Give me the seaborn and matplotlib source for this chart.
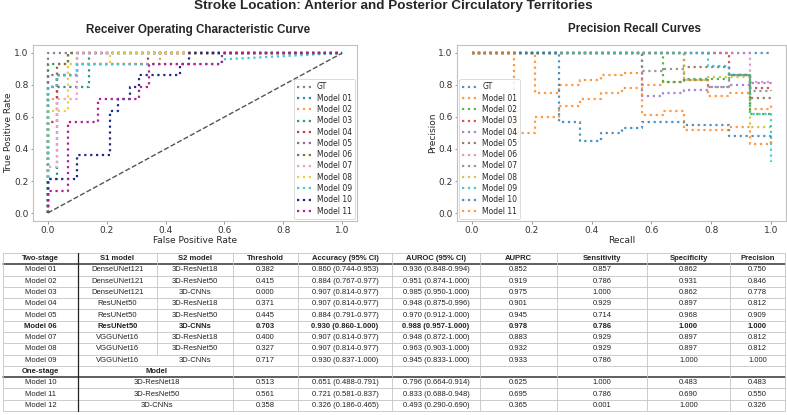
import matplotlib
matplotlib.use("Agg")
import matplotlib.pyplot as plt
import seaborn as sns

# ---------------- data ----------------
roc_names = ["GT", "Model 01", "Model 02", "Model 03", "Model 04", "Model 05",
             "Model 06", "Model 07", "Model 08", "Model 09", "Model 10", "Model 11"]
roc_fpr = [
    [0, 0, 1],
    [0, 0, 0.03, 0.03, 0.14, 0.14, 1],
    [0, 0, 0.03, 0.03, 0.07, 0.07, 0.38, 0.38, 1],
    [0, 0, 0.07, 0.07, 1],
    [0, 0, 0.03, 0.03, 0.10, 0.10, 0.34, 0.34, 1],
    [0, 0, 0.10, 0.10, 1],
    [0, 0, 0.03, 0.03, 0.07, 0.07, 1],
    [0, 0, 0.03, 0.03, 0.10, 0.10, 1],
    [0, 0, 0.07, 0.07, 0.21, 0.21, 1],
    [0, 0, 0.03, 0.03, 0.10, 0.10, 0.59, 0.59, 1],
    [0, 0, 0.10, 0.10, 0.21, 0.21, 0.24, 0.24, 0.28, 0.28, 0.31, 0.31, 0.45, 0.45, 0.48, 0.48, 1],
    [0, 0, 0.07, 0.07, 0.17, 0.17, 0.31, 0.31, 0.345, 0.345, 0.59, 0.59, 1],
]
roc_tpr = [
    [0, 1, 1],
    [0, 0.21, 0.21, 0.79, 0.79, 1, 1],
    [0, 0.71, 0.71, 0.86, 0.86, 0.93, 0.93, 1, 1],
    [0, 0.93, 0.93, 1, 1],
    [0, 0.57, 0.57, 0.86, 0.86, 0.93, 0.93, 1, 1],
    [0, 0.86, 0.86, 1, 1],
    [0, 0.79, 0.79, 0.93, 0.93, 1, 1],
    [0, 0.29, 0.29, 0.71, 0.71, 1, 1],
    [0, 0.64, 0.64, 0.93, 0.93, 1, 1],
    [0, 0.79, 0.79, 0.86, 0.86, 0.93, 0.93, 0.96, 1],
    [0, 0.21, 0.21, 0.36, 0.36, 0.64, 0.64, 0.71, 0.71, 0.79, 0.79, 0.86, 0.86, 0.93, 0.93, 1, 1],
    [0, 0.14, 0.14, 0.57, 0.57, 0.71, 0.71, 0.79, 0.79, 0.93, 0.93, 1, 1],
]
roc_colors = ["#8a7f9e", "#2f8fa0", "#f2a54a", "#2ca05a", "#c0395a", "#7f6f9f",
              "#8c6d3f", "#f0a0c8", "#e8d040", "#40c8d8", "#1f2a8a", "#b02090"]

pr_names = roc_names
pr_recall = [
    [0, 1],
    [0, 0.21, 0.21, 0.29, 0.29, 0.36, 0.36, 0.43, 0.43, 0.5, 0.5, 0.57, 0.57, 0.64, 0.64, 0.71, 0.71, 0.79, 0.79, 0.86, 0.86, 0.93, 0.93, 1, 1],
    [0, 0.64, 0.64, 0.71, 0.71, 0.86, 0.86, 0.93, 0.93, 1],
    [0, 0.86, 0.86, 0.93, 0.93, 1],
    [0, 0.57, 0.57, 0.64, 0.64, 0.71, 0.71, 0.79, 0.79, 0.86, 0.86, 0.93, 0.93, 1, 1],
    [0, 0.71, 0.71, 0.86, 0.86, 0.93, 0.93, 1],
    [0, 0.93, 0.93, 1],
    [0, 0.57, 0.57, 0.64, 0.64, 0.71, 0.71, 0.79, 0.79, 0.86, 0.86, 0.93, 0.93, 1, 1],
    [0, 0.71, 0.71, 0.79, 0.79, 0.93, 0.93, 1],
    [0, 0.79, 0.79, 0.86, 0.86, 0.93, 0.93, 1, 1],
    [0, 0.29, 0.29, 0.36, 0.36, 0.43, 0.43, 0.5, 0.5, 0.57, 0.57, 0.71, 0.71, 0.86, 0.86, 1, 1],
    [0, 0.14, 0.14, 0.21, 0.21, 0.29, 0.29, 0.36, 0.36, 0.43, 0.43, 0.5, 0.5, 0.57, 0.57, 0.64, 0.64, 0.71, 0.71, 0.86, 0.86, 0.93, 0.93, 1, 1],
]
pr_precision = [
    [1, 1],
    [1, 1, 0.75, 0.75, 0.8, 0.8, 0.83, 0.83, 0.86, 0.86, 0.875, 0.875, 0.8, 0.8, 0.82, 0.82, 0.83, 0.83, 0.73, 0.73, 0.75, 0.75, 0.65, 0.65, 0.69],
    [1, 1, 0.82, 0.82, 0.84, 0.84, 0.86, 0.86, 0.62, 0.62],
    [1, 1, 0.86, 0.86, 0.78, 0.78],
    [1, 1, 0.73, 0.73, 0.75, 0.75, 0.77, 0.77, 0.79, 0.79, 0.8, 0.8, 0.81, 0.81, 0.82],
    [1, 1, 0.91, 0.91, 0.86, 0.86, 0.72, 0.72],
    [1, 1, 0.82, 0.82],
    [1, 1, 0.89, 0.89, 0.9, 0.9, 0.83, 0.83, 0.79, 0.79, 0.86, 0.86, 0.76, 0.76, 0.77],
    [1, 1, 0.83, 0.83, 0.85, 0.85, 0.54, 0.54],
    [1, 1, 0.92, 0.92, 0.86, 0.86, 0.62, 0.62, 0.32],
    [1, 1, 0.57, 0.57, 0.45, 0.45, 0.5, 0.5, 0.53, 0.53, 0.57, 0.57, 0.55, 0.55, 0.48, 0.48, 0.5],
    [1, 1, 0.5, 0.5, 0.6, 0.6, 0.67, 0.67, 0.71, 0.71, 0.75, 0.75, 0.78, 0.78, 0.61, 0.61, 0.64, 0.64, 0.52, 0.52, 0.54, 0.54, 0.43, 0.43, 0.45],
]
pr_colors = ["#1f77b4", "#ff7f0e", "#2ca02c", "#d62728", "#9467bd", "#8c564b",
             "#e377c2", "#7f7f7f", "#bcbd22", "#17becf", "#1f77b4", "#ff7f0e"]

# table
header = ["Two-stage", "S1 model", "S2 model", "Threshold", "Accuracy (95% CI)",
          "AUROC (95% CI)", "AUPRC", "Sensitivity", "Specificity", "Precision"]
two_models = ["Model 01", "Model 02", "Model 03", "Model 04", "Model 05",
              "Model 06", "Model 07", "Model 08", "Model 09"]
two_s1 = ["DenseUNet121", "DenseUNet121", "DenseUNet121", "ResUNet50", "ResUNet50",
          "ResUNet50", "VGGUNet16", "VGGUNet16", "VGGUNet16"]
two_s2 = ["3D-ResNet18", "3D-ResNet50", "3D-CNNs", "3D-ResNet18", "3D-ResNet50",
          "3D-CNNs", "3D-ResNet18", "3D-ResNet50", "3D-CNNs"]
two_thr = ["0.382", "0.415", "0.000", "0.371", "0.445", "0.703", "0.400", "0.327", "0.717"]
two_acc = ["0.860 (0.744-0.953)", "0.884 (0.767-0.977)", "0.907 (0.814-0.977)",
           "0.907 (0.814-0.977)", "0.884 (0.791-0.977)", "0.930 (0.860-1.000)",
           "0.907 (0.814-0.977)", "0.907 (0.814-0.977)", "0.930 (0.837-1.000)"]
two_auroc = ["0.936 (0.848-0.994)", "0.951 (0.874-1.000)", "0.985 (0.950-1.000)",
             "0.948 (0.875-0.996)", "0.970 (0.912-1.000)", "0.988 (0.957-1.000)",
             "0.948 (0.872-1.000)", "0.963 (0.903-1.000)", "0.945 (0.833-1.000)"]
two_auprc = ["0.852", "0.919", "0.975", "0.901", "0.945", "0.978", "0.883", "0.932", "0.933"]
two_sens = ["0.857", "0.786", "1.000", "0.929", "0.714", "0.786", "0.929", "0.929", "0.786"]
two_spec = ["0.862", "0.931", "0.862", "0.897", "0.968", "1.000", "0.897", "0.897", "1.000"]
two_prec = ["0.750", "0.846", "0.778", "0.812", "0.909", "1.000", "0.812", "0.812", "1.000"]

one_header = ["One-stage", "Model"]
one_models = ["Model 10", "Model 11", "Model 12"]
one_arch = ["3D-ResNet18", "3D-ResNet50", "3D-CNNs"]
one_thr = ["0.513", "0.561", "0.358"]
one_acc = ["0.651 (0.488-0.791)", "0.721 (0.581-0.837)", "0.326 (0.186-0.465)"]
one_auroc = ["0.796 (0.664-0.914)", "0.833 (0.688-0.948)", "0.493 (0.290-0.690)"]
one_auprc = ["0.625", "0.695", "0.365"]
one_sens = ["1.000", "0.786", "0.001"]
one_spec = ["0.483", "0.690", "1.000"]
one_prec = ["0.483", "0.550", "0.326"]
best_row = "Model 06"

# ---------------- figure ----------------
sns.set_style("white")
plt.rcParams['font.family'] = ['DejaVu Sans']

W, H = 787, 415
fig = plt.figure(figsize=(W / 100, H / 100), dpi=100)

ax1 = fig.add_axes([33 / W, 1 - 221 / H, 324 / W, 176 / H])
ax2 = fig.add_axes([457 / W, 1 - 221 / H, 329 / W, 176 / H])

for name, fx, ty, c in zip(roc_names, roc_fpr, roc_tpr, roc_colors):
    sns.lineplot(x=fx, y=ty, sort=False, estimator=None, ax=ax1, color=c,
                 linestyle=':', linewidth=1.6, label=name)
sns.lineplot(x=[0, 1], y=[0, 1], sort=False, estimator=None, ax=ax1,
             color="#555555", linestyle='--', linewidth=1.0)

for name, rx, py, c in zip(pr_names, pr_recall, pr_precision, pr_colors):
    sns.lineplot(x=rx, y=py, sort=False, estimator=None, ax=ax2, color=c,
                 linestyle=':', linewidth=1.6, alpha=0.8, label=name)

tick = [0.0, 0.2, 0.4, 0.6, 0.8, 1.0]
for ax in (ax1, ax2):
    ax.set_xlim(-0.05, 1.05)
    ax.set_ylim(-0.05, 1.05)
    ax.set_xticks(tick)
    ax.set_yticks(tick)
    ax.tick_params(axis='both', labelsize=6.5, length=1.8, width=0.6,
                   color="#888888", pad=1.5, bottom=True, left=True,
                   labelcolor="#333333")
    for s in ax.spines.values():
        s.set_color("#c0c0c0")
        s.set_linewidth(0.8)

ax1.set_xlabel("False Positive Rate", fontsize=6.5, labelpad=1.0)
ax1.set_ylabel("True Positive Rate", fontsize=6.5, labelpad=0.5)
ax2.set_xlabel("Recall", fontsize=6.5, labelpad=1.0)
ax2.set_ylabel("Precision", fontsize=6.5, labelpad=0.5)

ax1.set_title("Receiver Operating Characteristic Curve", fontsize=8.4,
              fontweight='bold', family='Liberation Sans', pad=9, x=0.51)
ax2.set_title("Precision Recall Curves", fontsize=8.4,
              fontweight='bold', family='Liberation Sans', pad=9, x=0.54)

for ax, loc in ((ax1, 'lower right'), (ax2, 'lower left')):
    leg = ax.legend(loc=loc, fontsize=5.5, labelspacing=0.3,
                    handlelength=2.0, handletextpad=0.6, borderpad=0.4,
                    borderaxespad=0.3, frameon=True, fancybox=True)
    leg.get_frame().set_edgecolor("#cccccc")
    leg.get_frame().set_linewidth(0.6)

fig.text(0.5, 1 - 0.5 / H, "Stroke Location: Anterior and Posterior Circulatory Territories",
         ha='center', va='top', fontsize=9.7, fontweight='bold', family='Liberation Sans')

# ---------------- table ----------------
tab = fig.add_axes([0, 0, 1, 1], zorder=-1)
tab.set_xlim(0, W)
tab.set_ylim(H, 0)
tab.axis('off')

col_edges = [3, 78, 157, 233, 298, 392, 480, 557, 647, 730, 785]
col_cent = [(col_edges[i] + col_edges[i + 1]) / 2 for i in range(10)]
top = 253.0
rh = 11.29
n_rows = 14
bottom = top + n_rows * rh
light = "#c4c4c4"
fs = 5.5
fam = 'Liberation Sans'

for r in range(n_rows + 1):
    y = top + r * rh
    if r in (1, 11):
        tab.plot([col_edges[0], col_edges[-1]], [y, y], color="#333333", lw=1.1)
    else:
        tab.plot([col_edges[0], col_edges[-1]], [y, y], color=light, lw=0.6)

for i, x in enumerate(col_edges):
    if i == 1:
        tab.plot([x, x], [top, bottom], color="#222222", lw=0.9)
    elif i == 2:
        tab.plot([x, x], [top, top + 9 * rh], color=light, lw=0.6)
    else:
        tab.plot([x, x], [top, bottom], color=light, lw=0.6)


def put(ci, ri, s, bold=False, x=None):
    cx = col_cent[ci] if x is None else x
    tab.text(cx, top + (ri + 0.5) * rh, s, ha='center', va='center', fontsize=fs,
             family=fam, fontweight='bold' if bold else 'normal', color="#222222")


for ci, s in enumerate(header):
    put(ci, 0, s, bold=True)

for k in range(9):
    b = two_models[k] == best_row
    row = [two_models[k], two_s1[k], two_s2[k], two_thr[k], two_acc[k], two_auroc[k],
           two_auprc[k], two_sens[k], two_spec[k], two_prec[k]]
    for ci, s in enumerate(row):
        put(ci, k + 1, s, bold=b)

put(0, 10, one_header[0], bold=True)
put(1, 10, one_header[1], bold=True, x=col_edges[2])

for k in range(3):
    ri = 11 + k
    put(0, ri, one_models[k])
    put(1, ri, one_arch[k], x=col_edges[2])
    rest = [one_thr[k], one_acc[k], one_auroc[k], one_auprc[k], one_sens[k],
            one_spec[k], one_prec[k]]
    for j, s in enumerate(rest):
        put(3 + j, ri, s)

fig.savefig("out.png", dpi=100)
